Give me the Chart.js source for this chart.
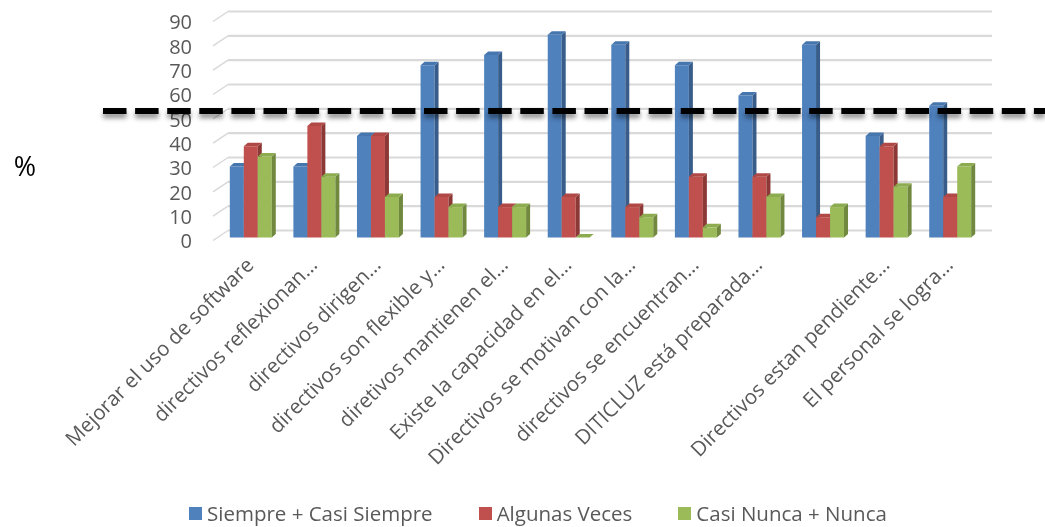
<!DOCTYPE html>
<html>
<head>
<meta charset="utf-8">
<script src="https://cdn.jsdelivr.net/npm/chart.js@4.4.1/dist/chart.umd.min.js"></script>
<style>
  html, body { margin: 0; padding: 0; background: #ffffff; }
  #wrap { position: relative; width: 1045px; height: 527px; overflow: hidden; }
  #legend {
    position: absolute; left: 189px; top: 500px;
    display: flex; align-items: center; white-space: nowrap;
    font-family: "Open Sans", sans-serif; font-size: 20.5px; color: #595959; line-height: 26px;
  }
  #legend .item { display: flex; align-items: center; margin-right: 46px; }
  #legend .swatch { width: 13px; height: 13px; margin-right: 5px; }
</style>
</head>
<body>
<div id="wrap"><canvas id="chart"></canvas><div id="legend"></div></div>
<script>
// Survey items (percent of respondents per answer group); item 10 has no caption
const categories = [
  'Mejorar el uso de software',
  'directivos reflexionan…',
  'directivos dirigen…',
  'directivos son flexible y…',
  'diretivos mantienen el…',
  'Existe la capacidad en el…',
  'Directivos se motivan con la…',
  'directivos se encuentran…',
  'DITICLUZ está preparada…',
  '',
  'Directivos estan pendiente…',
  'El personal se logra…'
];

const siempreCasiSiempre = [29.17, 29.17, 41.67, 70.83, 75.00, 83.33, 79.17, 70.83, 58.33, 79.17, 41.67, 54.17];
const algunasVeces       = [37.50, 45.83, 41.67, 16.67, 12.50, 16.67, 12.50, 25.00, 25.00,  8.33, 37.50, 16.67];
const casiNuncaNunca     = [33.33, 25.00, 16.67, 12.50, 12.50,  0.00,  8.33,  4.17, 16.67, 12.50, 20.83, 29.17];

const seriesNames = ['Siempre + Casi Siempre', 'Algunas Veces', 'Casi Nunca + Nunca'];
const yTicks = [0, 10, 20, 30, 40, 50, 60, 70, 80, 90];
const threshold = 52;

// face colours: front, side, top
const palette = [
  { front: '#4F81BD', side: '#385D8A', top: '#4676AE' },
  { front: '#C0504D', side: '#8C3836', top: '#B04946' },
  { front: '#9BBB59', side: '#71893F', top: '#8DAC50' }
];

const TEXT_FONT = 'Open Sans';
const DEPTH_X = 4, DEPTH_Y = 3.5;

const depthBars = {
  id: 'depthBars',
  beforeDatasetsDraw(chart) {
    const { ctx, chartArea, scales: { y } } = chart;
    ctx.save();
    // walls: side wall slant + back wall gridline
    yTicks.forEach(v => {
      const py = y.getPixelForValue(v);
      ctx.strokeStyle = '#d9d9d9';
      ctx.lineWidth = 1.5;
      ctx.beginPath();
      ctx.moveTo(chartArea.left - 6, py + 3);
      ctx.lineTo(chartArea.left + 9, py - 7);
      ctx.stroke();
      ctx.lineWidth = 2.2;
      ctx.beginPath();
      ctx.moveTo(chartArea.left + 9, py - 7);
      ctx.lineTo(chartArea.right + 10, py - 7);
      ctx.stroke();
    });
    // bars, series by series so each front face hides the neighbour's side
    chart.data.datasets.forEach((ds, di) => {
      const meta = chart.getDatasetMeta(di);
      const col = palette[di];
      meta.data.forEach(el => {
        const { x, y: top, base, width } = el.getProps(['x', 'y', 'base', 'width'], true);
        const l = x - width / 2, r = x + width / 2;
        el.draw(ctx, chartArea);
        ctx.fillStyle = col.side;
        ctx.beginPath();
        ctx.moveTo(r, top);
        ctx.lineTo(r + DEPTH_X, top - DEPTH_Y);
        ctx.lineTo(r + DEPTH_X, base - DEPTH_Y);
        ctx.lineTo(r, base);
        ctx.closePath();
        ctx.fill();
        ctx.fillStyle = col.top;
        ctx.beginPath();
        ctx.moveTo(l, top);
        ctx.lineTo(r, top);
        ctx.lineTo(r + DEPTH_X, top - DEPTH_Y);
        ctx.lineTo(l + DEPTH_X, top - DEPTH_Y);
        ctx.closePath();
        ctx.fill();
      });
    });
    ctx.restore();
    return false;
  },
  afterDraw(chart) {
    const { ctx, scales: { y } } = chart;
    const py = y.getPixelForValue(threshold);
    ctx.save();
    ctx.strokeStyle = '#000000';
    ctx.lineWidth = 6;
    ctx.setLineDash([23.5, 8.6]);
    ctx.shadowColor = 'rgba(0,0,0,0.45)';
    ctx.shadowBlur = 5;
    ctx.shadowOffsetY = 4;
    ctx.beginPath();
    ctx.moveTo(103, py);
    ctx.lineTo(1045, py);
    ctx.stroke();
    ctx.restore();

    ctx.save();
    ctx.fillStyle = '#000000';
    ctx.font = '27px "' + TEXT_FONT + '"';
    ctx.textAlign = 'center';
    ctx.textBaseline = 'middle';
    ctx.fillText('%', 25, 168);
    ctx.restore();
  }
};

const datasets = [siempreCasiSiempre, algunasVeces, casiNuncaNunca].map((values, i) => ({
  label: seriesNames[i],
  data: values,
  backgroundColor: palette[i].front,
  borderWidth: 0,
  categoryPercentage: 0.66,
  barPercentage: 1.0
}));

const chart = new Chart(document.getElementById('chart'), {
  type: 'bar',
  data: { labels: categories, datasets },
  options: {
    responsive: true,
    maintainAspectRatio: false,
    animation: false,
    layout: { padding: { top: 18.5, left: 92, right: 63, bottom: 52 } },
    plugins: {
      tooltip: { enabled: false },
      legend: { display: false }
    },
    scales: {
      x: {
        grid: { display: false },
        border: { display: false },
        ticks: {
          autoSkip: false,
          minRotation: 45,
          maxRotation: 45,
          padding: 8,
          labelOffset: 0,
          color: '#595959',
          font: { family: TEXT_FONT, size: 20.5 }
        },
        afterFit(s) { s.height = 237.5; }
      },
      y: {
        min: 0,
        max: 90,
        grid: { display: false, drawTicks: true, tickLength: 23 },
        border: { display: false },
        afterBuildTicks(s) { s.ticks = yTicks.map(v => ({ value: v })); },
        ticks: {
          autoSkip: false,
          padding: 4,
          labelOffset: 5,
          color: '#595959',
          font: { family: TEXT_FONT, size: 20 }
        },
        afterFit(s) { s.width = 127; }
      }
    }
  },
  plugins: [depthBars]
});

// series key under the plot
const legendEl = document.getElementById('legend');
chart.data.datasets.forEach((ds, i) => {
  const item = document.createElement('span');
  item.className = 'item';
  const sw = document.createElement('span');
  sw.className = 'swatch';
  sw.style.background = ds.backgroundColor;
  const tx = document.createElement('span');
  tx.textContent = ds.label;
  item.appendChild(sw);
  item.appendChild(tx);
  legendEl.appendChild(item);
});
</script>
</body>
</html>
